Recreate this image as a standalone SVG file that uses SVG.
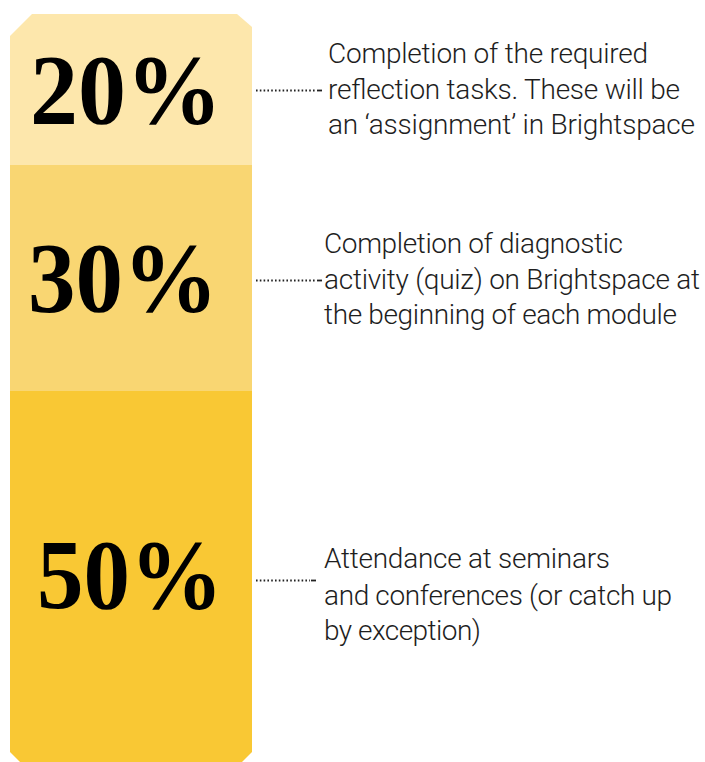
<svg xmlns="http://www.w3.org/2000/svg" width="705" height="762" viewBox="0 0 705 762">
<style>
.pct{font-family:"Liberation Serif","Times New Roman",serif;font-weight:bold;font-size:100px;fill:#000}
.lbl{font-family:Roboto,"Liberation Sans",sans-serif;font-weight:300;font-size:28px;fill:#1e1e1e}
.dot{stroke:#222;stroke-width:1.8;stroke-dasharray:1.6 2.2;fill:none}
.dash{stroke:#222;stroke-width:1.8;fill:none}
</style>
<rect width="705" height="762" fill="#ffffff"/>
<g id="bar">
<g id="seg20">
<path d="M32,14 H237 L252,27 V165 H10 V36 Z" fill="#FDE7AC"/>
<text class="pct" x="30" y="123" textLength="192" lengthAdjust="spacingAndGlyphs">20%</text>
</g>
<g id="seg30">
<rect x="10" y="165" width="242" height="226" fill="#F9D672"/>
<text class="pct" x="28" y="311" textLength="190" lengthAdjust="spacingAndGlyphs">30%</text>
</g>
<g id="seg50">
<path d="M10,391 H252 V752 L242,762 H20 L10,752 Z" fill="#F9C834"/>
<text class="pct" x="37" y="608" textLength="186" lengthAdjust="spacingAndGlyphs">50%</text>
</g>
</g>
<g id="connectors">
<line class="dot" x1="256" y1="90.5" x2="316" y2="90.5"/>
<line class="dash" x1="317" y1="90.5" x2="322" y2="90.5"/>
<line class="dot" x1="256" y1="280.5" x2="316" y2="280.5"/>
<line class="dash" x1="317" y1="280.5" x2="322" y2="280.5"/>
<line class="dot" x1="256" y1="580.5" x2="310" y2="580.5"/>
<line class="dash" x1="311" y1="580.5" x2="316" y2="580.5"/>
</g>
<g id="label20">
<text class="lbl" x="328" y="63" textLength="320">Completion of the required</text>
<text class="lbl" x="328" y="99" textLength="352">reflection tasks. These will be</text>
<text class="lbl" x="328" y="134" textLength="367">an ‘assignment’ in Brightspace</text>
</g>
<g id="label30">
<text class="lbl" x="324" y="253" textLength="299">Completion of diagnostic</text>
<text class="lbl" x="324" y="289" textLength="376">activity (quiz) on Brightspace at</text>
<text class="lbl" x="324" y="324" textLength="353">the beginning of each module</text>
</g>
<g id="label50">
<text class="lbl" x="324" y="568" textLength="286">Attendance at seminars</text>
<text class="lbl" x="324" y="605" textLength="348">and conferences (or catch up</text>
<text class="lbl" x="324" y="640" textLength="157">by exception)</text>
</g>
</svg>
